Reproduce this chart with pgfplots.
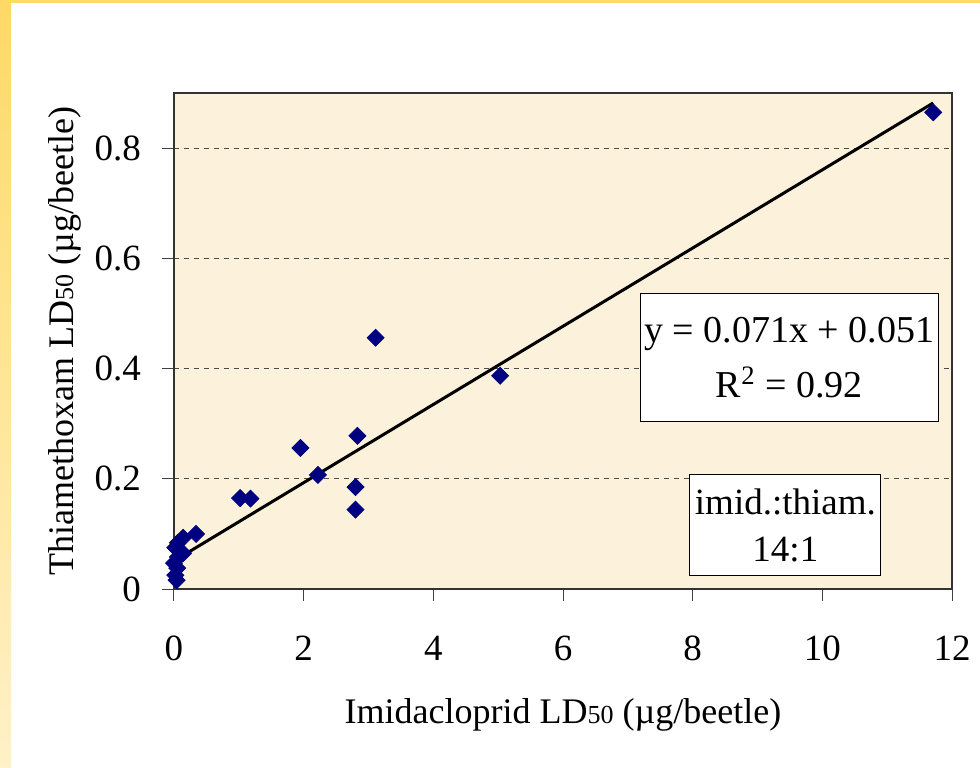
\documentclass[border=0pt]{standalone}
\usepackage{pgfplots}
\pgfplotsset{compat=1.18}
\usepackage{fontspec}
\setmainfont{Liberation Serif}

\definecolor{plotbg}{RGB}{252,241,218}
\definecolor{navy}{RGB}{0,0,128}
\definecolor{slideyellow}{RGB}{255,217,102}
\definecolor{slidepale}{RGB}{255,241,200}

\begin{document}
\begin{tikzpicture}[x=1pt,y=1pt]
% slide background
\path[fill=white] (0,0) rectangle (490,-383.5);
\shade[top color=slideyellow,bottom color=slidepale] (0,0) rectangle (5.5,-383.5);
\fill[slideyellow] (0,0) rectangle (490,-1.5);

\begin{axis}[
    at={(87pt,-294.5pt)}, anchor=south west,
    scale only axis, width=389pt, height=248pt,
    xmin=0, xmax=12, ymin=0, ymax=0.9,
    xtick={0,2,...,12},
    ytick={0,0.2,0.4,0.6,0.8},
    xtick pos=left, ytick pos=left,
    tick align=outside,
    major tick length=6pt,
    tick style={black!75, line width=0.5pt},
    axis line style={black!80, line width=0.8pt},
    axis background/.style={fill=plotbg},
    ymajorgrids,
    grid style={black!70, line width=0.5pt, dash pattern=on 2.5pt off 2.5pt},
    /pgf/number format/assume math mode=true,
    ticklabel style={font=\fontsize{18.5}{20}\selectfont},
    xticklabel style={yshift=-14pt},
    yticklabel style={xshift=-7pt},
    xlabel={Imidacloprid LD{\fontsize{13}{14}\selectfont 50} (µg/beetle)},
    ylabel={Thiamethoxam LD{\fontsize{13}{14}\selectfont 50} (µg/beetle)},
    label style={font=\fontsize{18}{20}\selectfont},
    xlabel style={yshift=-12pt},
    ylabel style={yshift=0pt},
]
\addplot[only marks, mark=square*, mark size=3pt, navy,
         mark options={fill=navy, draw=navy, rotate=45}]
coordinates {
    (11.71,0.865) (3.11,0.456) (5.03,0.387) (1.95,0.256) (2.83,0.278)
    (2.22,0.207) (2.80,0.185) (2.80,0.144) (1.02,0.165) (1.18,0.164)
    (0.34,0.100) (0.14,0.093) (0.06,0.084) (0.02,0.075) (0.14,0.065)
    (0.06,0.058) (0.00,0.047) (0.05,0.038) (0.02,0.025) (0.04,0.016)
};
% linear trendline
\addplot[black, line width=1.5pt] coordinates {(0.0,0.051) (11.71,0.882)};

\node[draw=black, fill=white, line width=0.6pt, align=center,
      minimum width=149pt, minimum height=64pt, inner sep=2pt,
      font=\fontsize{19}{27.5}\selectfont]
  at (axis cs:9.49,0.42) {y = 0.071x + 0.051\\R\textsuperscript{2} = 0.92};
\node[draw=black, fill=white, line width=0.6pt, align=center,
      minimum width=95.5pt, minimum height=50.5pt, inner sep=2pt,
      font=\fontsize{18.5}{23.5}\selectfont]
  at (axis cs:9.43,0.116) {imid.:thiam.\\14:1};
\end{axis}
\end{tikzpicture}
\end{document}
